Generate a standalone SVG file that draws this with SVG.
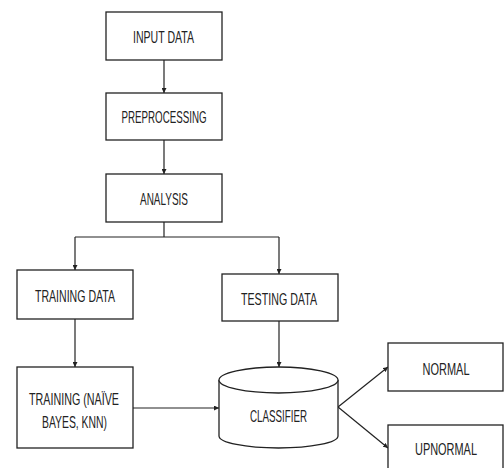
<svg xmlns="http://www.w3.org/2000/svg" width="504" height="468" viewBox="0 0 504 468">
<style>
.box{fill:#fff;stroke:#222;stroke-width:1.3}
.t{font-family:"Liberation Sans",Arial,sans-serif;font-size:16.5px;fill:#222;text-anchor:middle}
.c{fill:none;stroke:#222;stroke-width:1.2}
</style>
<defs>
<marker id="ah" viewBox="0 0 10 10" refX="10" refY="5" markerWidth="5" markerHeight="5" markerUnits="userSpaceOnUse" orient="auto">
<path d="M0,0 L10,5 L0,10 z" fill="#222"/>
</marker>
</defs>
<rect width="504" height="468" fill="#fff"/>
<g id="connectors">
<path class="c" d="M164,60 V93" marker-end="url(#ah)"/>
<path class="c" d="M164,140 V174" marker-end="url(#ah)"/>
<path class="c" d="M164,222 V237"/>
<path class="c" d="M75,237 H279"/>
<path class="c" d="M75,237 V270" marker-end="url(#ah)"/>
<path class="c" d="M279,237 V274" marker-end="url(#ah)"/>
<path class="c" d="M75,319 V367" marker-end="url(#ah)"/>
<path class="c" d="M279,321 V367" marker-end="url(#ah)"/>
<path class="c" d="M133,408 H219" marker-end="url(#ah)"/>
<path class="c" d="M338,407 L388,367" marker-end="url(#ah)"/>
<path class="c" d="M338,407 L388,448" marker-end="url(#ah)"/>
</g>
<g id="input">
<rect class="box" x="106" y="12" width="116" height="48"/>
<text class="t" x="163.5" y="43" textLength="61" lengthAdjust="spacingAndGlyphs">INPUT DATA</text>
</g>
<g id="preprocessing">
<rect class="box" x="106" y="93" width="116" height="47"/>
<text class="t" x="164" y="123" textLength="85" lengthAdjust="spacingAndGlyphs">PREPROCESSING</text>
</g>
<g id="analysis">
<rect class="box" x="106" y="174" width="116" height="48"/>
<text class="t" x="164" y="205" textLength="48" lengthAdjust="spacingAndGlyphs">ANALYSIS</text>
</g>
<g id="training-data">
<rect class="box" x="17" y="270" width="116" height="49"/>
<text class="t" x="75" y="302" textLength="80" lengthAdjust="spacingAndGlyphs">TRAINING DATA</text>
</g>
<g id="testing-data">
<rect class="box" x="222" y="274" width="116" height="47"/>
<text class="t" x="279" y="305" textLength="76" lengthAdjust="spacingAndGlyphs">TESTING DATA</text>
</g>
<g id="training">
<rect class="box" x="17" y="367" width="116" height="81"/>
<text class="t" x="74" y="405" textLength="90" lengthAdjust="spacingAndGlyphs">TRAINING (NAÏVE</text>
<text class="t" x="74.5" y="428" textLength="65" lengthAdjust="spacingAndGlyphs">BAYES, KNN)</text>
</g>
<g id="classifier">
<path class="box" d="M219,380 V436 A59.5,12 0 0 0 338,436 V380"/>
<ellipse class="box" cx="278.5" cy="380" rx="59.5" ry="13"/>
<text class="t" x="278.5" y="422" textLength="57" lengthAdjust="spacingAndGlyphs">CLASSIFIER</text>
</g>
<g id="normal">
<rect class="box" x="388" y="343" width="115" height="48"/>
<text class="t" x="446" y="375" textLength="47" lengthAdjust="spacingAndGlyphs">NORMAL</text>
</g>
<g id="upnormal">
<rect class="box" x="388" y="425" width="115" height="50"/>
<text class="t" x="446" y="455" textLength="62" lengthAdjust="spacingAndGlyphs">UPNORMAL</text>
</g>
</svg>
